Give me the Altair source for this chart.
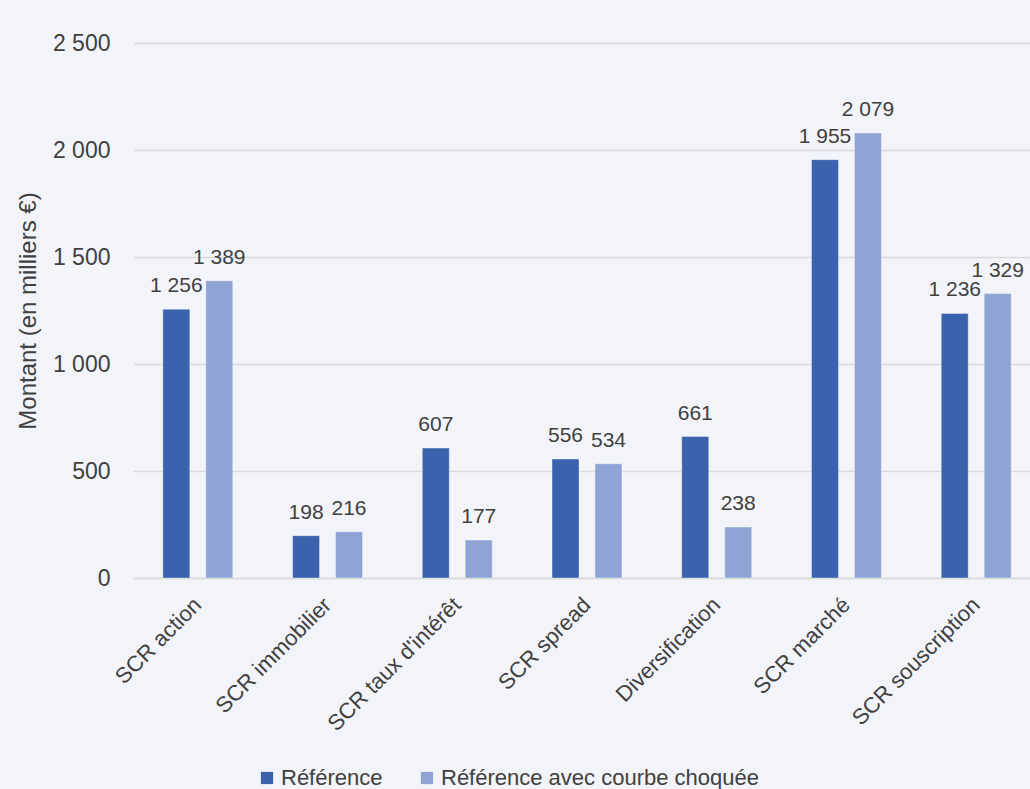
import altair as alt
import pandas as pd

# SCR components, in thousands of euros
categories = ["SCR action", "SCR immobilier", "SCR taux d'intérêt", "SCR spread",
              "Diversification", "SCR marché", "SCR souscription"]
reference = [1256, 198, 607, 556, 661, 1955, 1236]
shocked = [1389, 216, 177, 534, 238, 2079, 1329]
series_names = ["Référence", "Référence avec courbe choquée"]
series_colors = ["#3B63AD", "#8FA4D4"]
y_ticks = [0, 500, 1000, 1500, 2000, 2500]

rows = []
for cat, a, b in zip(categories, reference, shocked):
    rows.append({"cat": cat, "serie": series_names[0], "val": a})
    rows.append({"cat": cat, "serie": series_names[1], "val": b})
df = pd.DataFrame(rows)

FONT = "Liberation Sans"
TXT = "#404040"
GRID = "#D9D9D9"

x = alt.X("cat:N", sort=categories, title=None,
          scale=alt.Scale(range=[0, 908], paddingInner=0.461, paddingOuter=0.23),
          axis=alt.Axis(labelAngle=-45, labelAlign="right", labelBaseline="middle",
                        labelFontSize=22, labelColor=TXT, labelFont=FONT,
                        labelPadding=23, ticks=False, domainColor=GRID,
                        domainWidth=1.5, labelLimit=0))
xo = alt.XOffset("serie:N", sort=series_names,
                 scale=alt.Scale(paddingInner=0.372, paddingOuter=0))
y = alt.Y("val:Q", title="Montant (en milliers €)",
          scale=alt.Scale(domain=[0, 2500], nice=False),
          axis=alt.Axis(values=y_ticks, format=",d",
                        labelFontSize=23, labelColor=TXT, labelFont=FONT,
                        labelPadding=23, ticks=False, domain=False,
                        gridColor=GRID, gridWidth=1.5,
                        titleFontSize=24, titleColor=TXT, titleFont=FONT,
                        titleFontWeight="normal", titlePadding=12))
color = alt.Color("serie:N", sort=series_names,
                  scale=alt.Scale(domain=series_names, range=series_colors),
                  legend=alt.Legend(title=None, orient="none", direction="horizontal",
                                    legendX=123, legendY=724, symbolType="square",
                                    symbolSize=150, symbolStrokeWidth=0,
                                    labelFontSize=22, labelColor=TXT, labelFont=FONT,
                                    labelLimit=0, columnPadding=33, labelOffset=3))

bars = alt.Chart(df).mark_bar(stroke="white", strokeWidth=0.8, strokeOpacity=0.45).encode(
    x=x, xOffset=xo, y=y, color=color)
labels = alt.Chart(df).mark_text(dy=-23, fontSize=21, color=TXT, font=FONT).encode(
    x=alt.X("cat:N", sort=categories),
    xOffset=alt.XOffset("serie:N", sort=series_names),
    y="val:Q",
    text=alt.Text("val:Q", format=",d"),
)

chart = (
    alt.layer(bars, labels)
    .properties(width=897, height=535,
                autosize=alt.AutoSizeParams(type="none"),
                padding={"left": 133, "top": 43, "right": 0, "bottom": 211})
    .configure(background="#F3F4F9",
               locale={"number": {"decimal": ",", "thousands": "\u00a0",
                                  "grouping": [3], "currency": ["", " €"]}})
    .configure_view(stroke=None)
)

chart.save("out.html", embed_options={"renderer": "svg", "actions": False})
